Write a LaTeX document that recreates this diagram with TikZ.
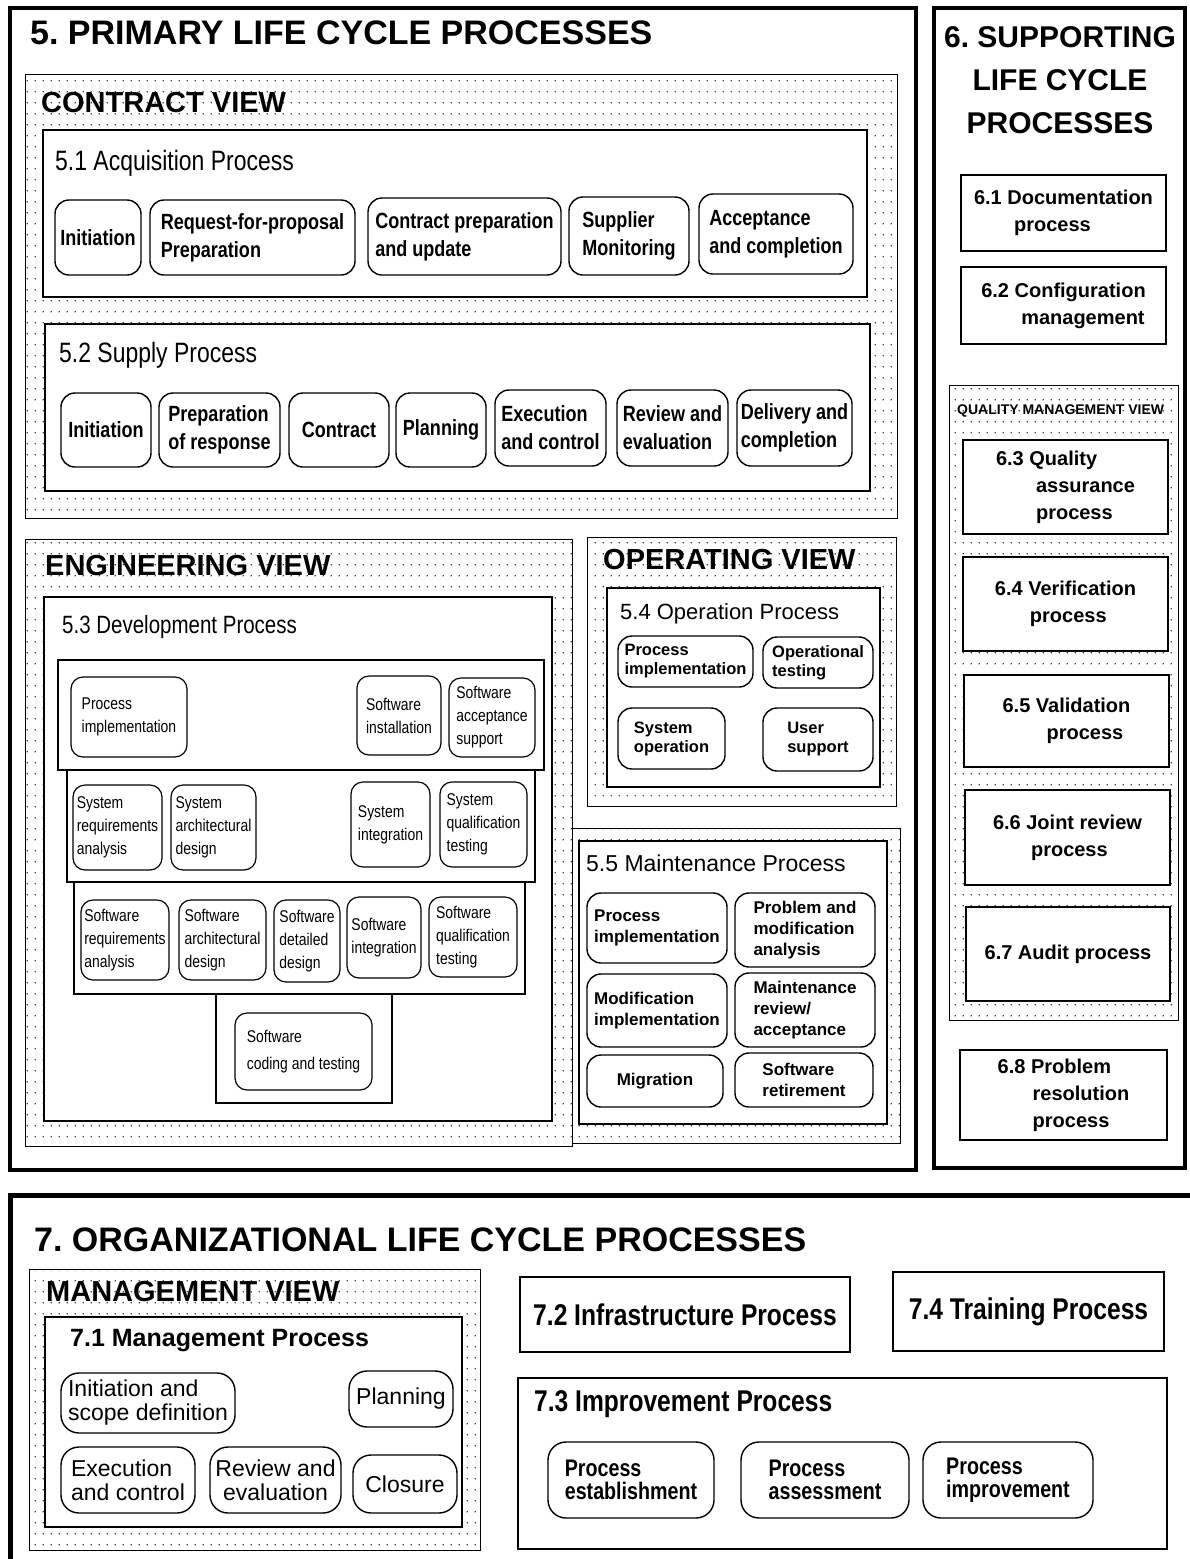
\documentclass[tikz,border=0pt]{standalone}
\usepackage{fontspec}
\setmainfont{Liberation Sans}
\newfontfamily\narrowfont[FakeStretch=0.82]{Liberation Sans}
\usetikzlibrary{patterns.meta}
\frenchspacing

\tikzdeclarepattern{
  name=viewdots,
  type=uncolored,
  bounding box={(0pt,0pt) and (8pt,11pt)},
  tile size={(8pt,11pt)},
  code={\fill (3pt,4pt) rectangle (4.4pt,5.4pt);}
}

\newcommand{\ind}[1]{\hspace*{#1em}}

\tikzset{
  cell/.style args={#1/#2/#3/#4}{at={({0.5*(#1+#3)},{0.5*(#2+#4)})}, minimum width={#3-#1}, minimum height={#4-#2}},
  outerbox/.style={draw, line width=4pt},
  viewbox/.style={draw, line width=0.8pt, pattern=viewdots, pattern color=black!75, inner sep=0pt},
  procbox/.style={draw, line width=1.8pt, fill=white, inner sep=0pt},
  stagebox/.style={draw, line width=1.3pt, fill=white, inner sep=0pt},
  task/.style={draw, line width=1.4pt, rounded corners=14pt, fill=white, inner sep=0pt, align=left},
  headtext/.style={anchor=west, inner sep=0pt, font=\bfseries\fontsize{34}{40}\selectfont},
  viewtext/.style={anchor=west, inner sep=0pt, font=\bfseries\fontsize{29}{32}\selectfont},
  subtext/.style={anchor=west, inner sep=0pt, font=\narrowfont\fontsize{28}{30}\selectfont},
  acqtask/.style={task, font=\narrowfont\bfseries\fontsize{22}{28}\selectfont},
  devtask/.style={task, rounded corners=12pt, line width=1.2pt, font=\narrowfont\fontsize{17}{23}\selectfont},
  optask/.style={task, font=\bfseries\fontsize{16.5}{19}\selectfont},
  maintask/.style={task, font=\bfseries\fontsize{17}{21}\selectfont},
  supbox/.style={draw, line width=1.4pt, fill=white, inner sep=0pt, align=left, font=\bfseries\fontsize{20}{27}\selectfont},
  mgmttask/.style={task, rounded corners=18pt, font=\fontsize{23}{24}\selectfont},
  imptask/.style={task, rounded corners=18pt, font=\narrowfont\bfseries\fontsize{24}{23}\selectfont},
  orgproc/.style={procbox, line width=1.5pt, font=\narrowfont\bfseries\fontsize{30}{32}\selectfont}
}

\begin{document}
\begin{tikzpicture}[x=1pt,y=-1pt]
\useasboundingbox (0,0) rectangle (1190,1559);

\draw[outerbox] (10,8) rectangle (916,1170);
\draw[outerbox] (934,8) rectangle (1185,1168);
\draw[outerbox, line width=5pt] (10,1580) -- (10,1195) -- (1210,1195);

\node[headtext] (primtitle) at (30,33) {5. PRIMARY LIFE CYCLE PROCESSES};
\node[align=center, inner sep=0pt, font=\bfseries\fontsize{30}{43}\selectfont] (supptitle) at (1060,80) {6. SUPPORTING\\LIFE CYCLE\\PROCESSES};
\node[headtext] (orgtitle) at (34,1240) {7. ORGANIZATIONAL LIFE CYCLE PROCESSES};

% contract view
\node[viewbox, cell=25/74/897/518] (contract) {};
\node[viewtext] (contractlbl) at (41,103) {CONTRACT VIEW};
\node[procbox, cell=43/130/867/297] (acq) {};
\node[subtext] (acqlbl) at (55,163) {5.1 Acquisition Process};
\node[acqtask, cell=55/200/141/275] (acqinit) {Initiation};
\node[acqtask, cell=150/200/355/275] (acqrfp) {Request-for-proposal\\Preparation};
\node[acqtask, cell=368/198/561/275] (acqcontract) {Contract preparation\\and update};
\node[acqtask, cell=569/197/689/275] (acqmonitor) {Supplier\\Monitoring};
\node[acqtask, cell=699/194/853/274] (acqaccept) {Acceptance\\and completion};

\node[procbox, cell=45/324/870/491] (sup) {};
\node[subtext] (suplbl) at (59,355) {5.2 Supply Process};
\node[acqtask, cell=61/393/151/467] (supinit) {Initiation};
\node[acqtask, cell=159/393/280/467] (supprep) {Preparation\\of response};
\node[acqtask, cell=289/393/389/467] (supcontract) {Contract};
\node[acqtask, cell=396/393/486/467] (supplan) {Planning};
\node[acqtask, cell=495/390/606/466] (supexec) {Execution\\and control};
\node[acqtask, cell=617/390/728/466] (supreview) {Review and\\evaluation};
\node[acqtask, cell=737/390/852/466] (supdeliver) {Delivery and\\completion};

% engineering view
\node[viewbox, cell=25/539/572/1146] (engineering) {};
\node[viewtext] (englbl) at (45,566) {ENGINEERING VIEW};
\node[procbox, cell=44/597/552/1121] (dev) {};
\node[subtext, font=\narrowfont\fontsize{25}{28}\selectfont] (devlbl) at (62,627) {5.3 Development Process};
\node[stagebox, cell=58/660/544/770] (stagea) {};
\node[stagebox, cell=67/770/535/882] (stageb) {};
\node[stagebox, cell=74/882/525/994] (stagec) {};
\node[stagebox, cell=216/994/392/1103] (staged) {};
\node[devtask, cell=71/677/187/757] (devimpl) {Process\\implementation};
\node[devtask, cell=357/676/441/755] (devinstall) {Software\\installation};
\node[devtask, cell=449/678/535/757] (devaccept) {Software\\acceptance\\support};
\node[devtask, cell=73/785/162/870] (sysreq) {System\\requirements\\analysis};
\node[devtask, cell=171/785/256/870] (sysarch) {System\\architectural\\design};
\node[devtask, cell=351/782/430/867] (sysint) {System\\integration};
\node[devtask, cell=440/782/527/867] (sysqual) {System\\qualification\\testing};
\node[devtask, cell=81/900/169/980] (swreq) {Software\\requirements\\analysis};
\node[devtask, cell=179/900/266/980] (swarch) {Software\\architectural\\design};
\node[devtask, cell=274/900/340/982] (swdetail) {Software\\detailed\\design};
\node[devtask, cell=347/897/421/978] (swint) {Software\\integration};
\node[devtask, cell=429/897/517/977] (swqual) {Software\\qualification\\testing};
\node[devtask, font=\narrowfont\fontsize{17}{27}\selectfont, cell=235/1013/372/1090] (swcode) {Software\\coding and testing};

% operating view
\node[viewbox, cell=587/537/896/806] (operating) {};
\node[viewtext] (oplbl) at (603,560) {OPERATING VIEW};
\node[procbox, cell=607/588/880/787] (op) {};
\node[anchor=west, inner sep=0pt, font=\fontsize{22}{24}\selectfont] (opproclbl) at (620,614) {5.4 Operation Process};
\node[optask, cell=618/636/753/687] (opimpl) {Process\\implementation};
\node[optask, cell=763/637/873/688] (optest) {Operational\\testing};
\node[optask, cell=618/708/725/769] (opsys) {System\\operation};
\node[optask, cell=763/708/873/771] (opuser) {User\\support};

\node[viewbox, cell=572/828/900/1143] (maintview) {};
\node[procbox, cell=579/841/887/1124] (maint) {};
\node[anchor=west, inner sep=0pt, font=\fontsize{23}{25}\selectfont] (maintlbl) at (586,863) {5.5 Maintenance Process};
\node[maintask, cell=587/893/727/963] (mimpl) {Process\\implementation};
\node[maintask, cell=735/893/875/967] (manalysis) {Problem and\\modification\\analysis};
\node[maintask, cell=587/974/727/1047] (mmod) {Modification\\implementation};
\node[maintask, cell=735/973/875/1047] (mreview) {Maintenance\\review/\\acceptance};
\node[maintask, align=center, cell=587/1055/723/1107] (mmigrate) {Migration};
\node[maintask, cell=735/1053/873/1107] (mretire) {Software\\retirement};

% supporting processes
\node[supbox, cell=961/175/1166/251] (docproc) {6.1 Documentation\\\ind{2}process};
\node[supbox, cell=961/267/1166/344] (confproc) {6.2 Configuration\\\ind{2}management};
\node[viewbox, cell=949/385/1178/1020] (quality) {};
\node[anchor=west, inner sep=0pt, font=\bfseries\fontsize{14}{16}\selectfont] (qualitylbl) at (957,411) {QUALITY MANAGEMENT VIEW};
\node[supbox, cell=963/440/1168/534] (qaproc) {6.3 Quality\\\ind{2}assurance\\\ind{2}process};
\node[supbox, cell=963/557/1168/651] (verproc) {6.4 Verification\\\ind{1.75}process};
\node[supbox, cell=964/675/1169/767] (valproc) {6.5 Validation\\\ind{2.2}process};
\node[supbox, cell=965/790/1170/885] (jrproc) {6.6 Joint review\\\ind{1.9}process};
\node[supbox, cell=966/907/1170/1001] (auditproc) {6.7 Audit process};
\node[supbox, cell=960/1050/1167/1140] (probproc) {6.8 Problem\\\ind{1.75}resolution\\\ind{1.75}process};

% organizational processes
\node[viewbox, cell=29/1269/480/1550] (management) {};
\node[viewtext] (mgmtlbl) at (46,1292) {MANAGEMENT VIEW};
\node[procbox, cell=45/1317/462/1527] (mgmt) {};
\node[anchor=west, inner sep=0pt, font=\bfseries\fontsize{25}{27}\selectfont] (mgmtproclbl) at (70,1341) {7.1 Management Process};
\node[mgmttask, cell=61/1373/235/1433] (mginit) {Initiation and\\scope definition};
\node[mgmttask, cell=349/1371/453/1427] (mgplan) {Planning};
\node[mgmttask, cell=61/1447/195/1513] (mgexec) {Execution\\and control};
\node[mgmttask, align=center, cell=210/1447/341/1513] (mgreview) {Review and\\evaluation};
\node[mgmttask, cell=353/1455/457/1513] (mgclose) {Closure};

\node[orgproc, cell=520/1277/850/1352] (infra) {7.2 Infrastructure Process};
\node[orgproc, cell=893/1272/1164/1351] (training) {7.4 Training Process};
\node[procbox, line width=1.5pt, cell=518/1378/1167/1549] (improve) {};
\node[anchor=west, inner sep=0pt, font=\narrowfont\bfseries\fontsize{30}{32}\selectfont] (improvelbl) at (534,1404) {7.3 Improvement Process};
\node[imptask, cell=548/1442/714/1518] (impest) {Process\\establishment};
\node[imptask, cell=741/1442/909/1518] (impassess) {Process\\assessment};
\node[imptask, cell=923/1442/1093/1518] (impimprove) {Process\\improvement};
\end{tikzpicture}
\end{document}
